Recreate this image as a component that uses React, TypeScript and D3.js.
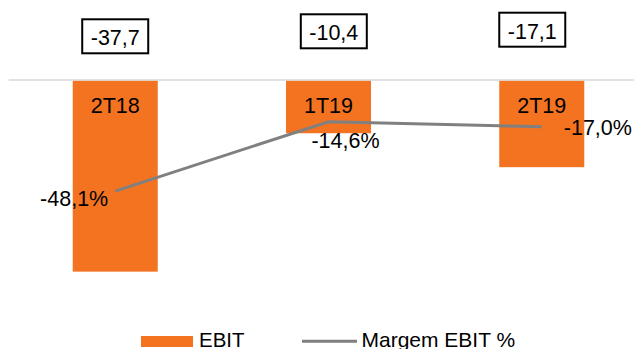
import React from "react";
import * as d3 from "d3";

const categories = ["2T18", "1T19", "2T19"];
const ebit = [-37.7, -10.4, -17.1];
const margem = [-48.1, -14.6, -17.0];
const ebitLabels = ["-37,7", "-10,4", "-17,1"];
const margemLabels = ["-48,1%", "-14,6%", "-17,0%"];

// layout constants (not data)
const boxDx = [0, 5.3, -9.5];
const boxTop = [19.3, 14.3, 12.7];
const lblPos = [
  { dx: -7, dy: 15, anchor: "end" },
  { dx: 17, dy: 26.5, anchor: "middle" },
  { dx: 22, dy: 8.5, anchor: "start" },
];

const W = 634;
const H = 349;
const FONT = "'Liberation Sans', Arial, sans-serif";
const ORANGE = "#F37321";
const GRAY = "#808080";

export default function App() {
  const x = d3
    .scaleBand<string>()
    .domain(categories)
    .range([8.6, 648.4])
    .paddingInner(0.6014)
    .paddingOuter(0.3007);
  const yBar = d3.scaleLinear().domain([-40, 0]).range([283.3, 80.5]);
  const yLine = d3.scaleLinear().domain([-50, 0]).range([195, 91.5]);
  const cx = (c: string) => (x(c) as number) + x.bandwidth() / 2;

  const line = d3
    .line<number>()
    .x((_, i) => cx(categories[i]))
    .y((d) => yLine(d));

  return (
    <div style={{ position: "absolute", left: 0, top: 0 }}>
      <svg width={W} height={H} style={{ display: "block", fontFamily: FONT }}>
        <rect width={W} height={H} fill="#fff" />
        {categories.map((c, i) => (
          <rect
            key={c}
            x={x(c)}
            y={yBar(0)}
            width={x.bandwidth()}
            height={yBar(ebit[i]) - yBar(0)}
            fill={ORANGE}
          />
        ))}
        <line x1={8.6} x2={W} y1={80} y2={80} stroke="#d9d9d9" strokeWidth={1.5} />
        {categories.map((c) => (
          <text key={c} x={cx(c)} y={113} textAnchor="middle" fontSize={21.5} fill="#000">
            {c}
          </text>
        ))}
        <path d={line(margem) || ""} fill="none" stroke={GRAY} strokeWidth={3} />
        {categories.map((c, i) => (
          <text
            key={c}
            x={cx(c) + lblPos[i].dx}
            y={yLine(margem[i]) + lblPos[i].dy}
            textAnchor={lblPos[i].anchor as any}
            fontSize={21.5}
            fill="#000"
          >
            {margemLabels[i]}
          </text>
        ))}
        {categories.map((c, i) => (
          <g key={c} transform={`translate(${cx(c) + boxDx[i]},${boxTop[i]})`}>
            <rect x={-33} y={0} width={66} height={34} fill="#fff" stroke="#000" strokeWidth={2} />
            <text x={0} y={26} textAnchor="middle" fontSize={21.5} fill="#000">
              {ebitLabels[i]}
            </text>
          </g>
        ))}
        <g>
          <rect x={141} y={336} width={52} height={11} fill={ORANGE} />
          <text x={199} y={347.3} fontSize={20.5} fill="#000">EBIT</text>
          <line x1={302} x2={357} y1={341.3} y2={341.3} stroke={GRAY} strokeWidth={3} />
          <text x={361.5} y={347.3} fontSize={21} fill="#000">Margem EBIT %</text>
        </g>
      </svg>
    </div>
  );
}
